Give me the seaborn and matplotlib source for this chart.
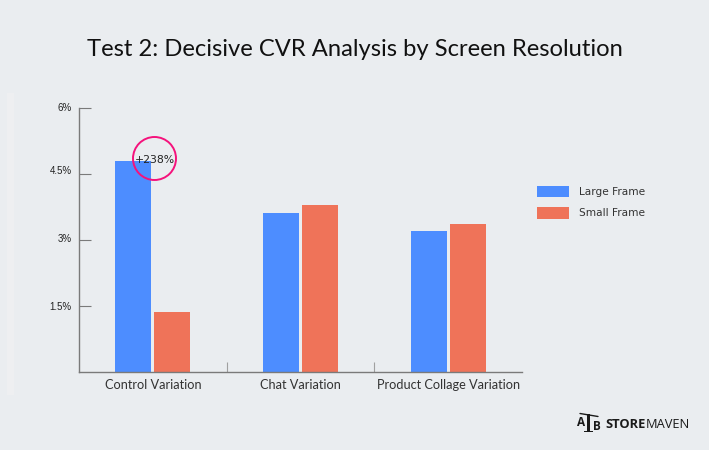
import matplotlib
matplotlib.use("Agg")
import matplotlib.pyplot as plt
from matplotlib.patches import Circle, Rectangle
from matplotlib.lines import Line2D
import pandas as pd
import seaborn as sns

categories = ["Control Variation", "Chat Variation", "Product Collage Variation"]
large_frame = [4.80, 3.62, 3.21]
small_frame = [1.35, 3.80, 3.37]
series_names = ["Large Frame", "Small Frame"]
y_ticks = [1.5, 3, 4.5, 6]
y_tick_labels = ["1.5%", "3%", "4.5%", "6%"]
title = "Test 2: Decisive CVR Analysis by Screen Resolution"
callout = "+238%"

W, H = 709, 450
BG = "#EAEDF0"
sns.set_theme(style="white", rc={"figure.facecolor": BG, "axes.facecolor": "none"})
plt.rcParams["font.family"] = ["Lato", "DejaVu Sans"]

df = pd.DataFrame({
    "category": categories * 2,
    "cvr": large_frame + small_frame,
    "series": [series_names[0]] * 3 + [series_names[1]] * 3,
})

fig = plt.figure(figsize=(W / 100, H / 100), dpi=100)
fig.patch.set_facecolor(BG)
ax = fig.add_axes([79 / W, 1 - 371.5 / H, 443 / W, 263.5 / H])

sns.barplot(data=df, x="category", y="cvr", hue="series", order=categories,
            hue_order=series_names, palette=["#4D8DFF", "#EF7359"],
            width=0.528, gap=0.077, saturation=1, linewidth=0, ax=ax, legend=True, zorder=2)

ax.set_xlim(-0.5, 2.5)
ax.set_ylim(0, 6)
ax.set_xlabel("")
ax.set_ylabel("")
for s in ("top", "right"):
    ax.spines[s].set_visible(False)
for s in ("left", "bottom"):
    ax.spines[s].set_color("#7A7A7A")
    ax.spines[s].set_linewidth(1.0)

ax.set_yticks(y_ticks)
ax.set_yticklabels(y_tick_labels, fontsize=7.0, family="Liberation Sans", color="#222222")
ax.tick_params(axis="y", direction="in", length=8.5, width=0.8, color="#7A7A7A", pad=5.3, left=True)
for lab, dy in zip(ax.get_yticklabels(), [0, 2, 4, 1]):
    lab.set_transform(lab.get_transform() + matplotlib.transforms.ScaledTranslation(0, dy / 100, fig.dpi_scale_trans))

ax.set_xticks([0, 1, 2])
ax.set_xticklabels(categories, fontsize=9.2, color="#333333")
ax.tick_params(axis="x", length=0, pad=5.5, bottom=False)
ax.set_xticks([0.5, 1.5], minor=True)
ax.tick_params(axis="x", which="minor", direction="in", length=7, width=0.8, color="#A0A0A0", bottom=True)

# legend
leg = ax.get_legend()
handles = leg.legend_handles
leg.remove()
fig.legend(handles, series_names, loc="upper left", bbox_to_anchor=(537 / W, 1 - 185.5 / H),
           borderaxespad=0, borderpad=0, frameon=False, handlelength=3.05, handleheight=1.3,
           handletextpad=0.95, labelspacing=0.95,
           prop={"family": "DejaVu Sans", "size": 7.6}, labelcolor="#333333")

def px(x, y):
    return x / W, 1 - y / H

# faint strip on left
fig.add_artist(Rectangle(px(7, 395), 7 / W, 302 / H, transform=fig.transFigure,
                         facecolor="#EEEFF1", edgecolor="none", zorder=0))

fig.text(355 / W, 1 - 49 / H, title, ha="center", va="center", fontsize=17.1, color="#111111")

# callout circle: isotropic in pixels
r = 21.5
cx, cy = 154.5, 158.5
fig.add_artist(Circle((cx, H - cy), r, transform=matplotlib.transforms.IdentityTransform(),
                      facecolor="none", edgecolor="#F5127C", linewidth=1.4, zorder=5))
fig.text(cx / W, 1 - (cy + 1.5) / H, callout, ha="center", va="center", fontsize=7.8,
         family="DejaVu Sans", color="#222222", zorder=6)

# logo
fig.text(605.5 / W, 1 - 424.5 / H, "STORE", ha="left", va="center", fontsize=9.3,
         fontweight="bold", family="Open Sans", color="#1A1A1A")
fig.text(646 / W, 1 - 424.5 / H, "MAVEN", ha="left", va="center", fontsize=9.3,
         family="Open Sans", color="#1A1A1A")
ink = "#1A1A1A"
fig.add_artist(Rectangle(px(587, 431), 3 / W, 17 / H, transform=fig.transFigure, facecolor=ink, edgecolor="none"))
fig.add_artist(Rectangle(px(584, 432), 9 / W, 1.5 / H, transform=fig.transFigure, facecolor=ink, edgecolor="none"))
fig.add_artist(Line2D([580 / W, 598 / W], [1 - 413.5 / H, 1 - 416.5 / H], transform=fig.transFigure, color=ink, lw=1))
fig.text(581 / W, 1 - 422 / H, "A", ha="center", va="center", fontsize=8.5, fontweight="bold",
         family="Open Sans", color=ink)
fig.text(597 / W, 1 - 426 / H, "B", ha="center", va="center", fontsize=8.5, fontweight="bold",
         family="Open Sans", color=ink)

fig.savefig("out.png", dpi=100, facecolor=BG)
